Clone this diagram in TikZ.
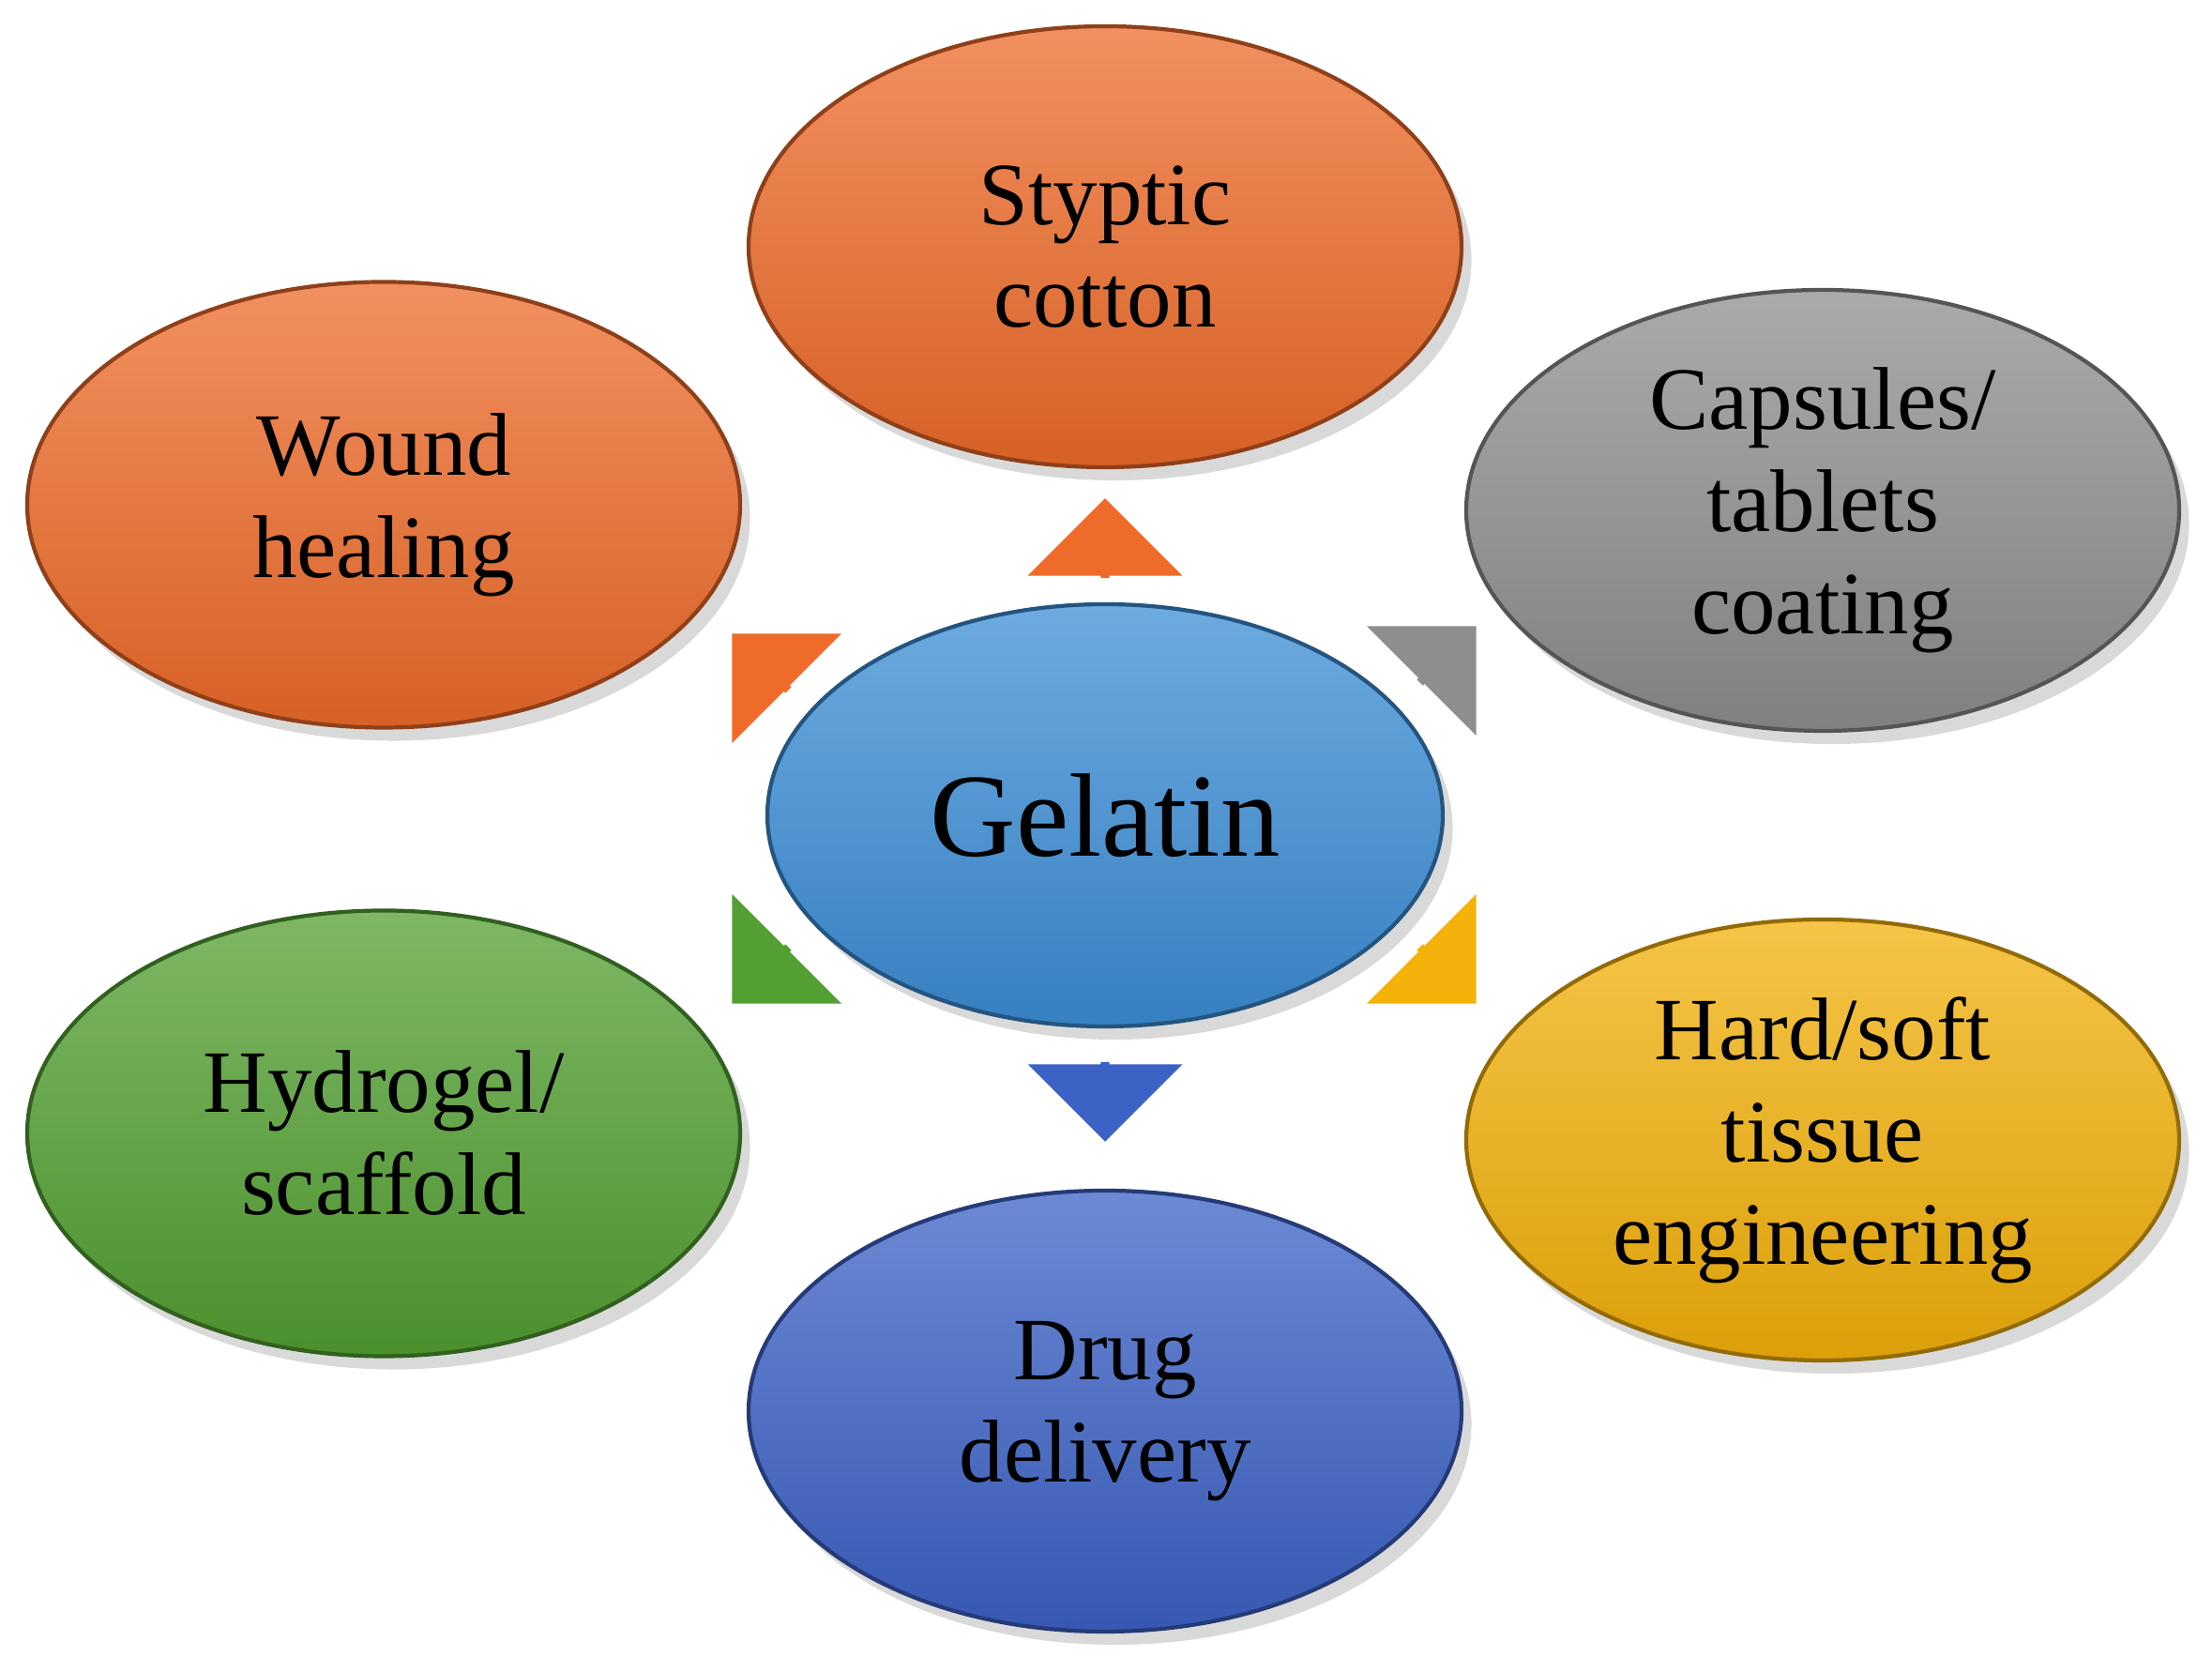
\documentclass[tikz,border=0pt]{standalone}
\usepackage{fontspec}
\setmainfont{Liberation Serif}
\usetikzlibrary{shapes.arrows,shadows}
\definecolor{org}{HTML}{EE6B2A}
\definecolor{gry}{HTML}{8E8E8E}
\definecolor{gel}{HTML}{3C8ED6}
\definecolor{grn}{HTML}{53A032}
\definecolor{ylw}{HTML}{F3B10A}
\definecolor{drg}{HTML}{3C62C6}
\tikzset{
 blob/.style={ellipse,draw=#1!60!black,line width=1.2pt,top color=#1!75!white,bottom color=#1!90!black,
   minimum width=7.6cm,minimum height=4.7cm,align=center,font=\fontsize{27}{31}\selectfont,inner sep=0pt,
   drop shadow={opacity=0.3,shadow xshift=3pt,shadow yshift=-4pt}},
 blk/.style={single arrow,fill=#1,draw=none,minimum height=0.85cm,minimum width=1.65cm,
   single arrow head extend=0.12cm,inner sep=0pt}
}
\usetikzlibrary{shapes.geometric}
\begin{document}
\begin{tikzpicture}
\useasboundingbox (0,0) rectangle (23.58,17.65);
\node[blob=org] (sty) at (11.78,15.02) {Styptic\\cotton};
\node[blob=org,minimum width=7.6cm,minimum height=4.75cm] (wnd) at (4.09,12.27) {Wound\\healing};
\node[blob=gry] (cap) at (19.43,12.21) {Capsules/\\tablets\\coating};
\node[blob=gel,minimum width=7.2cm,minimum height=4.5cm,font=\fontsize{36}{40}\selectfont] (gel) at (11.78,8.96) {Gelatin};
\node[blob=grn,minimum width=7.6cm,minimum height=4.75cm] (hyd) at (4.09,5.57) {Hydrogel/\\scaffold};
\node[blob=ylw] (hrd) at (19.43,5.50) {Hard/soft\\tissue\\engineering};
\node[blob=drg] (drg) at (11.78,2.61) {Drug\\delivery};
\node[blk=org,rotate=90] (a1) at (11.78,11.89) {};
\node[blk=drg,rotate=-90] (a2) at (11.78,5.93) {};
\node[blk=org,rotate=135] (a3) at (8.12,10.58) {};
\node[blk=gry,rotate=45] (a4) at (15.42,10.66) {};
\node[blk=ylw,rotate=-45] (a5) at (15.42,7.27) {};
\node[blk=grn,rotate=-135] (a6) at (8.12,7.27) {};
\end{tikzpicture}
\end{document}
